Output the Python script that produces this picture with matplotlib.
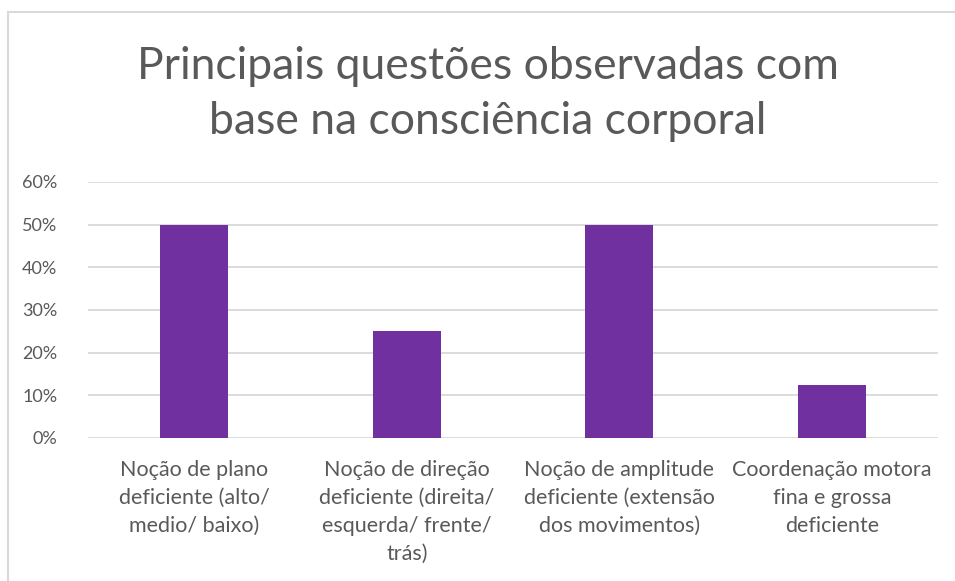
"""Principais questões observadas com base na consciência corporal."""

import matplotlib.pyplot as plt
from matplotlib.patches import Rectangle
from matplotlib.ticker import PercentFormatter

categorias = [
    "Noção de plano\ndeficiente (alto/\nmedio/ baixo)",
    "Noção de direção\ndeficiente (direita/\nesquerda/ frente/\ntrás)",
    "Noção de amplitude\ndeficiente (extensão\ndos movimentos)",
    "Coordenação motora\nfina e grossa\ndeficiente",
]
valores = [0.50, 0.25, 0.50, 0.125]
yticks = [0, 0.1, 0.2, 0.3, 0.4, 0.5, 0.6]

TEXT = "#595959"
GRID = "#d9d9d9"
BAR = "#7030a0"

plt.rcParams["font.family"] = ["Lato", "DejaVu Sans"]

fig = plt.figure(figsize=(9.55, 5.81), dpi=100)
fig.patches.append(
    Rectangle((8 / 955, -0.1), 1.2, 1 - 12 / 581 + 0.1, transform=fig.transFigure,
              fill=False, edgecolor=GRID, linewidth=1.5)
)

ax = fig.add_axes([88 / 955, 1 - 438 / 581, 850 / 955, 256 / 581])
ax.bar(range(len(valores)), valores, width=0.32, color=BAR, zorder=3)
ax.set_xlim(-0.5, len(valores) - 0.5)
ax.set_ylim(0, 0.6)
ax.set_yticks(yticks)
ax.yaxis.set_major_formatter(PercentFormatter(1.0, decimals=0))
ax.set_xticks(range(len(categorias)))
ax.set_xticklabels(categorias, linespacing=1.5)
ax.grid(axis="y", color=GRID, linewidth=1.3, zorder=0)
for s in ax.spines.values():
    s.set_visible(False)
ax.tick_params(axis="y", length=0, pad=22, labelsize=13, labelcolor=TEXT)
ax.tick_params(axis="x", length=0, pad=16, labelsize=15.5, labelcolor=TEXT)

fig.text(488 / 955, 1 - 94 / 581,
         "Principais questões observadas com\nbase na consciência corporal",
         ha="center", va="center", fontsize=32, color=TEXT, linespacing=1.4)

fig.savefig("out.png", dpi=100)
